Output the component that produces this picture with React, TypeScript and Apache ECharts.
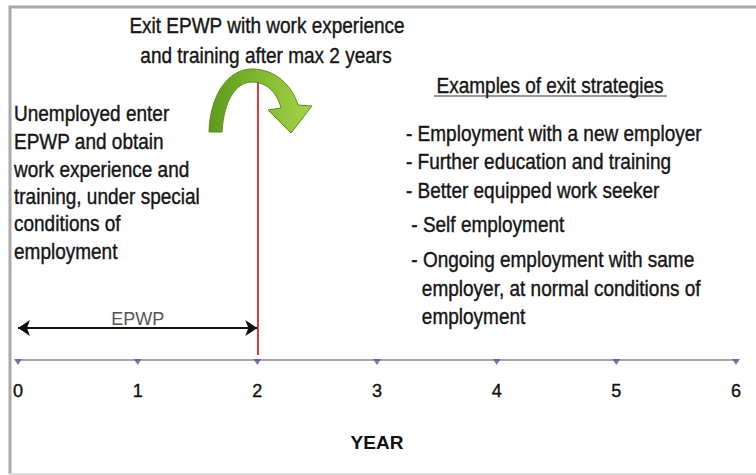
import React, { useEffect, useRef } from "react";
import * as echarts from "echarts";

const years = [0, 1, 2, 3, 4, 5, 6];
const exitYear = 2;
const epwpRange = [0, 2];
const epwpLevel = 0.94;
const exitLineRange = [0.15, 8.18];
const axisName = "YEAR";
const epwpLabel = "EPWP";
const titleLines = ["Exit EPWP with work experience", "and training after max 2 years"];
const entryLines = [
  "Unemployed enter",
  "EPWP and obtain",
  "work experience and",
  "training, under special",
  "conditions of",
  "employment",
];
const strategyHeading = "Examples of exit strategies";
const strategyLines = [
  "- Employment with a new employer",
  "- Further education and training",
  "- Better equipped work seeker",
  " - Self employment",
  " - Ongoing employment with same",
  "   employer, at normal conditions of",
  "   employment",
];

const ARROW_D =
  "M209 132 C210 95 228 69 252 69 C275 69 292 85 298 105 L312 106 L291 133 L268 110 L281 108 C277 92 266 82 252 82 C236 82 224 100 222 132 Z";

let registered = false;

export default function App() {
  const ref = useRef<HTMLDivElement>(null);
  useEffect(() => {
    if (!registered) {
      echarts.graphic.registerShape("curvedArrow", echarts.graphic.extendPath(ARROW_D, {}));
      registered = true;
    }
    const chart = echarts.init(ref.current!, undefined, { renderer: "svg" });
    const FONT = '"Liberation Sans", Arial, sans-serif';
    const txt = (text: string, x: number, y: number, align = "left", extra: any = {}) => ({
      type: "text",
      silent: true,
      x,
      y,
      scaleY: 1.15,
      style: {
        text,
        x: 0,
        y: 0,
        fill: "#151515",
        stroke: "#151515",
        lineWidth: 0.35,
        font: `19px ${FONT}`,
        align,
        verticalAlign: "middle",
        ...extra,
      },
    });
    const entryY = [113, 141, 169, 196, 223, 251];
    const stratY = [133, 161, 190, 224, 259, 288, 316];
    const stratX = [406, 406, 406, 406, 406, 406, 406];
    const graphics: any[] = [
      { type: "polyline", silent: true, shape: { points: [[10, 474], [10, 7], [756, 7]] }, style: { stroke: "#a9a9a9", lineWidth: 3, fill: null } },
      { type: "line", silent: true, shape: { x1: 10, y1: 474, x2: 756, y2: 474 }, style: { stroke: "#dcdcdc", lineWidth: 2 } },
      txt(titleLines[0], 267, 25, "center"),
      txt(titleLines[1], 266, 55, "center"),
      ...entryLines.map((l, i) => txt(l, 14, entryY[i])),
      txt(strategyHeading, 550, 85, "center"),
      { type: "line", silent: true, shape: { x1: 434, y1: 96, x2: 667, y2: 96 }, style: { stroke: "#333", lineWidth: 1 } },
      ...strategyLines.map((l, i) => txt(l, stratX[i], stratY[i], "left", { whiteSpace: "pre" })),
      {
        type: "curvedArrow",
        silent: true,
        x: 0,
        y: 0,
        style: {
          fill: new echarts.graphic.LinearGradient(0, 0, 1, 0, [
            { offset: 0, color: "#5e9a1a" },
            { offset: 0.5, color: "#7fb92e" },
            { offset: 1, color: "#a8d24c" },
          ]),
          stroke: "#5a8f1c",
          lineWidth: 1,
        },
        z: 10,
      },
    ];
    chart.setOption({
      animation: false,
      grid: { left: 18, right: 20, top: 20, bottom: 115 },
      xAxis: {
        type: "value",
        min: 0,
        max: 6,
        interval: 1,
        name: axisName,
        nameLocation: "middle",
        nameGap: 73,
        nameTextStyle: { fontFamily: FONT, fontSize: 19, fontWeight: "bold", color: "#111" },
        axisLine: { lineStyle: { color: "#a6a6a6", width: 2 } },
        axisTick: { show: false },
        splitLine: { show: false },
        axisLabel: { margin: 22, fontFamily: FONT, fontSize: 18, color: "#111", textBorderColor: "#111", textBorderWidth: 0.4 },
      },
      yAxis: { type: "value", min: 0, max: 10, show: false, splitLine: { show: false } },
      graphic: graphics,
      series: [
        {
          type: "scatter",
          data: years.map((y) => [y, 0]),
          symbol: "triangle",
          symbolRotate: 180,
          symbolSize: [8, 6],
          symbolOffset: [0, 2],
          itemStyle: { color: "#5656a6" },
          silent: true,
          z: 5,
          markLine: {
            silent: true,
            animation: false,
            data: [
              [
                { coord: [exitYear, exitLineRange[0]], symbol: "none", lineStyle: { color: "#e23a3a", width: 2, type: "solid" }, label: { show: false } },
                { coord: [exitYear, exitLineRange[1]], symbol: "none" },
              ],
              [
                {
                  coord: [epwpRange[0], epwpLevel],
                  symbol: "arrow",
                  lineStyle: { color: "#111", width: 2, type: "solid" },
                  label: {
                    show: true,
                    formatter: epwpLabel,
                    position: "insideMiddleTop",
                    distance: 0,
                    color: "#555",
                    fontFamily: FONT,
                    fontSize: 18,
                  },
                },
                { coord: [epwpRange[1], epwpLevel], symbol: "arrow" },
              ],
            ],
            symbolSize: 12,
          },
        },
      ],
    });
    return () => chart.dispose();
  }, []);
  return <div ref={ref} style={{ position: "fixed", left: 0, top: 0, width: 756, height: 475, background: "#fff" }} />;
}
